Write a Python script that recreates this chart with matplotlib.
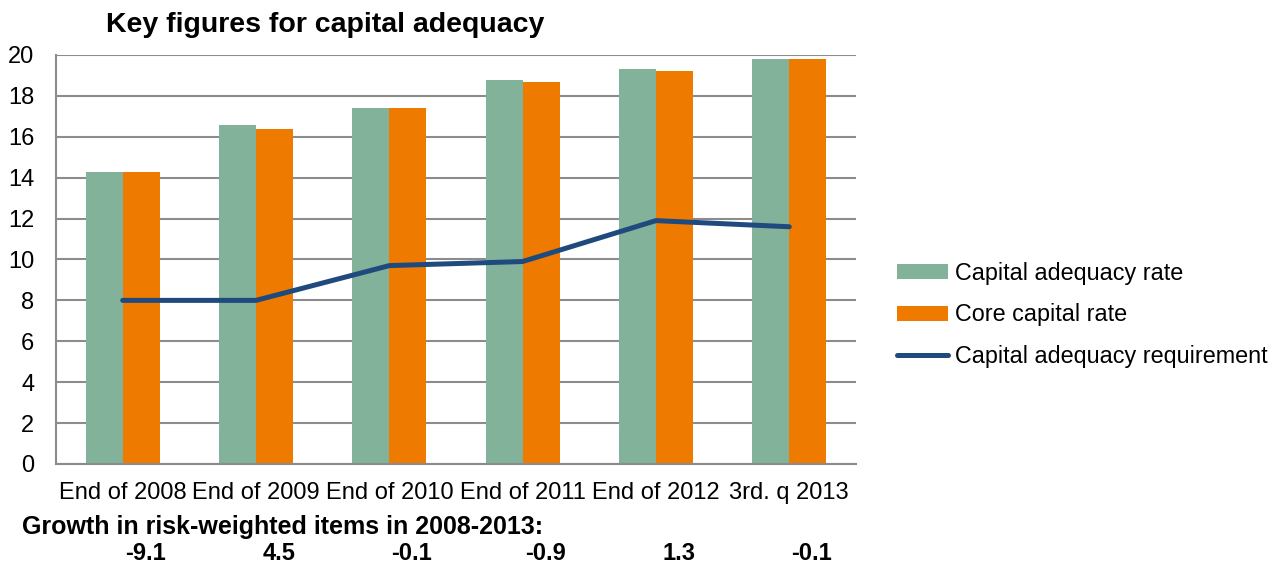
#!/usr/bin/env python3
"""Key figures for capital adequacy: grouped bars with requirement line."""

import matplotlib
matplotlib.use("Agg")
import matplotlib.pyplot as plt
import numpy as np

plt.rcParams["font.family"] = ["Liberation Sans", "DejaVu Sans"]

categories = ["End of 2008", "End of 2009", "End of 2010", "End of 2011", "End of 2012", "3rd. q 2013"]
capital_adequacy_rate = [14.3, 16.6, 17.4, 18.8, 19.3, 19.8]
core_capital_rate = [14.3, 16.4, 17.4, 18.7, 19.2, 19.8]
requirement = [8.0, 8.0, 9.7, 9.9, 11.9, 11.6]
rwa_growth = ["-9.1", "4.5", "-0.1", "-0.9", "1.3", "-0.1"]

COLORS = {
    "green": "#82B29A",
    "orange": "#EE7B00",
    "line": "#1F4A7E",
    "grid": "#8C8C8C",
    "text": "#000000",
}
FS = 17

fig = plt.figure(figsize=(12.85, 5.65), dpi=100)
ax = fig.add_axes([0.0436, 0.1788, 0.6225, 0.7239])

x = np.arange(len(categories))
w = 0.277
ax.bar(x - w / 2, capital_adequacy_rate, w, color=COLORS["green"], label="Capital adequacy rate", zorder=2)
ax.bar(x + w / 2, core_capital_rate, w, color=COLORS["orange"], label="Core capital rate", zorder=2)
ax.plot(x, requirement, color=COLORS["line"], linewidth=3.6, solid_capstyle="round",
        label="Capital adequacy requirement", zorder=3)

ax.set_xlim(-0.5, len(categories) - 0.5)
ax.set_ylim(0, 20)
ax.set_yticks(range(0, 21, 2))
ax.set_xticks(x)
ax.set_xticklabels(categories)
ax.tick_params(axis="both", length=0, labelsize=FS, colors=COLORS["text"])
ax.tick_params(axis="x", pad=13)
ax.tick_params(axis="y", pad=15.5)

ax.grid(axis="y", color=COLORS["grid"], linewidth=1.5, zorder=0)
ax.set_axisbelow(True)
for side in ("top", "right"):
    ax.spines[side].set_visible(False)
for side in ("left", "bottom"):
    ax.spines[side].set_color(COLORS["grid"])
    ax.spines[side].set_linewidth(1.5)

fig.text(0.253, 0.955, "Key figures for capital adequacy", ha="center", va="center",
         fontsize=20.5, fontweight="bold")

fig.text(0.017, 0.068, "Growth in risk-weighted items in 2008-2013:", ha="left", va="center",
         fontsize=18, fontweight="bold")
for xi, val in zip(x, rwa_growth):
    ax.text(xi + 0.17, -0.218, val, transform=ax.get_xaxis_transform(), ha="center", va="center",
            fontsize=17, fontweight="bold")

handles, labels = ax.get_legend_handles_labels()
order = [1, 2, 0]
fig.legend([handles[i] for i in order], [labels[i] for i in order],
           loc="center left", bbox_to_anchor=(0.682, 0.4425), frameon=False,
           fontsize=16.8, handlelength=2.15, handleheight=0.6, handletextpad=0.3,
           labelspacing=0.8)

fig.savefig("out.png", dpi=100, facecolor="white")
plt.close(fig)
